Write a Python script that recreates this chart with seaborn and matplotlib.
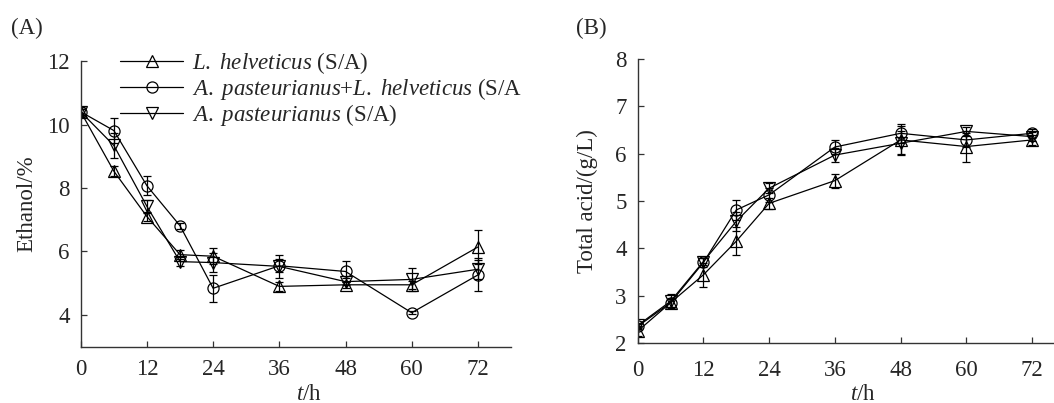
import pandas as pd
import numpy as np
import matplotlib
matplotlib.use("Agg")
import matplotlib.pyplot as plt
import seaborn as sns

# Sampling times (h)
hours = [0, 6, 12, 18, 24, 36, 48, 60, 72]

# Ethanol (%) with error bars
ethanol_lh = [10.4, 8.53, 7.10, 5.90, 5.85, 4.90, 4.95, 4.95, 6.14]
ethanol_lh_err = [0.15, 0.15, 0.15, 0.15, 0.25, 0.15, 0.10, 0.12, 0.55]
ethanol_mix = [10.4, 9.81, 8.07, 6.81, 4.84, 5.55, 5.37, 4.07, 5.26]
ethanol_mix_err = [0.10, 0.40, 0.30, 0.10, 0.42, 0.20, 0.32, 0.05, 0.52]
ethanol_ap = [10.4, 9.34, 7.42, 5.68, 5.65, 5.53, 5.05, 5.12, 5.44]
ethanol_ap_err = [0.10, 0.40, 0.20, 0.15, 0.30, 0.35, 0.10, 0.35, 0.30]

# Total acid (g/L) with error bars
acid_lh = [2.25, 2.85, 3.44, 4.15, 4.95, 5.43, 6.29, 6.15, 6.29]
acid_lh_err = [0.10, 0.08, 0.25, 0.30, 0.12, 0.15, 0.30, 0.33, 0.10]
acid_mix = [2.35, 2.85, 3.70, 4.81, 5.13, 6.14, 6.43, 6.29, 6.43]
acid_mix_err = [0.05, 0.10, 0.10, 0.22, 0.15, 0.15, 0.20, 0.15, 0.10]
acid_ap = [2.37, 2.88, 3.72, 4.57, 5.27, 5.97, 6.22, 6.47, 6.36]
acid_ap_err = [0.05, 0.15, 0.08, 0.20, 0.10, 0.15, 0.25, 0.10, 0.10]

# Series labels
lab_lh = r"$\mathit{L.\ helveticus}$ (S/A)"
lab_mix = r"$\mathit{A.\ pasteurianus{+}L.\ helveticus}$ (S/A"
lab_ap = r"$\mathit{A.\ pasteurianus}$ (S/A)"
series_order = [lab_lh, lab_mix, lab_ap]
markers = {lab_lh: "^", lab_mix: "o", lab_ap: "v"}

FS = 16.5

sns.set_style("ticks")
plt.rcParams["font.family"] = ["Liberation Serif", "DejaVu Serif"]
plt.rcParams["mathtext.fontset"] = "custom"
plt.rcParams["mathtext.rm"] = "Liberation Serif"
plt.rcParams["mathtext.it"] = "Liberation Serif:italic"
plt.rcParams["font.size"] = FS
plt.rcParams["xtick.direction"] = "in"
plt.rcParams["ytick.direction"] = "in"

ethanol_df = pd.DataFrame({
    "h": hours * 3,
    "val": ethanol_lh + ethanol_mix + ethanol_ap,
    "err": ethanol_lh_err + ethanol_mix_err + ethanol_ap_err,
    "group": [lab_lh] * 9 + [lab_mix] * 9 + [lab_ap] * 9,
})
acid_df = pd.DataFrame({
    "h": hours * 3,
    "val": acid_lh + acid_mix + acid_ap,
    "err": acid_lh_err + acid_mix_err + acid_ap_err,
    "group": [lab_lh] * 9 + [lab_mix] * 9 + [lab_ap] * 9,
})

fig = plt.figure(figsize=(10.54, 4.03), dpi=100)
ax1 = fig.add_axes([0.0766, 0.1397, 0.4082, 0.7089])
ax2 = fig.add_axes([0.605, 0.149, 0.395, 0.7046])


def draw(ax, df):
    sns.lineplot(data=df, x="h", y="val", style="group", style_order=series_order,
                 markers=markers, dashes=False, color="black", linewidth=0.9,
                 markersize=8, fillstyle="none", markeredgecolor="black",
                 markeredgewidth=0.9, legend=(ax is ax1), ax=ax)
    for g in series_order:
        sub = df[df["group"] == g]
        ax.errorbar(sub["h"], sub["val"], yerr=sub["err"], fmt="none",
                    ecolor="black", elinewidth=0.9, capsize=3, capthick=0.9)
    sns.despine(ax=ax)
    for s in ["left", "bottom"]:
        ax.spines[s].set_linewidth(1.0)
        ax.spines[s].set_color("#333333")
    ax.tick_params(length=4, width=0.9, labelsize=FS, color="#333333")
    ax.tick_params(axis="y", pad=8)
    ax.set_xticks([0, 12, 24, 36, 48, 60, 72])


draw(ax1, ethanol_df)
ax1.tick_params(axis="x", pad=9)
ax1.set_xlim(0, 78)
ax1.set_ylim(3, 12)
ax1.set_yticks([4, 6, 8, 10, 12])
ax1.set_xlabel(r"$\mathit{t}$/h", fontsize=FS)
ax1.set_ylabel("Ethanol/%", fontsize=FS)
ax1.xaxis.set_label_coords(0.53, -0.131)
ax1.yaxis.set_label_coords(-0.102, 0.5)
handles, labels = ax1.get_legend_handles_labels()
ax1.legend(handles, labels, loc="upper left", frameon=False, fontsize=FS,
           bbox_to_anchor=(120 / 1054, 1 - 50 / 403), bbox_transform=fig.transFigure,
           borderpad=0, borderaxespad=0, handlelength=2.75, handletextpad=0.4,
           labelspacing=0.0)

draw(ax2, acid_df)
ax2.tick_params(axis="x", pad=12)
ax2.set_xlim(0, 76)
ax2.set_ylim(2, 8)
ax2.set_yticks([2, 3, 4, 5, 6, 7, 8])
ax2.set_xlabel(r"$\mathit{t}$/h", fontsize=FS)
ax2.set_ylabel("Total acid/(g/L)", fontsize=FS)
ax2.xaxis.set_label_coords(0.54, -0.143)
ax2.yaxis.set_label_coords(-0.095, 0.5)

fig.text(27 / 1054, 1 - 28 / 403, "(A)", ha="center", va="center", fontsize=FS)
fig.text(591 / 1054, 1 - 28 / 403, "(B)", ha="center", va="center", fontsize=FS)

fig.savefig("out.png", dpi=100)
